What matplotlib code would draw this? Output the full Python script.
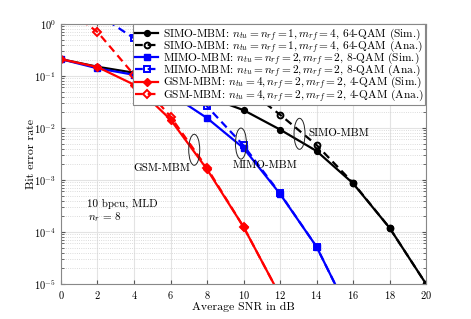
import numpy as np
import matplotlib
matplotlib.use('Agg')
import matplotlib.pyplot as plt
import matplotlib.transforms as mtransforms
from matplotlib.patches import Ellipse

plt.rcParams['font.family'] = ['cmr10', 'DejaVu Serif']
plt.rcParams['mathtext.fontset'] = 'cm'
plt.rcParams['axes.unicode_minus'] = False
plt.rcParams['axes.formatter.use_mathtext'] = True

# SNR grid (dB)
snr = [0, 2, 4, 6, 8, 10, 12, 14, 16, 18, 20]

# SIMO-MBM, 64-QAM
simo_sim = [0.21, 0.15, 0.115, 0.068, 0.040, 0.022, 0.0093, 0.0036, 8.6e-4, 1.2e-4, 1.0e-5]
simo_ana_snr = [8, 10, 12, 14, 16, 18, 20]
simo_ana = [0.25, 0.062, 0.018, 0.0047, 8.8e-4, 1.2e-4, 1.0e-5]

# MIMO-MBM, 8-QAM
mimo_snr = [0, 2, 4, 6, 8, 10, 12, 14, 16]
mimo_sim = [0.21, 0.14, 0.105, 0.045, 0.0155, 0.0041, 5.4e-4, 5.2e-5, 2.0e-6]
mimo_ana_snr = [2, 4, 6, 8, 10, 12, 14, 16]
mimo_ana = [1.55, 0.53, 0.12, 0.026, 0.0046, 5.5e-4, 5.2e-5, 2.0e-6]

# GSM-MBM, 4-QAM
gsm_snr = [0, 2, 4, 6, 8, 10, 12]
gsm_sim = [0.21, 0.148, 0.068, 0.0145, 0.0016, 1.25e-4, 6.0e-6]
gsm_ana = [2.3, 0.70, 0.105, 0.0165, 0.0017, 1.25e-4, 6.0e-6]

labels = [
    r'SIMO-MBM: $n_{tu}=n_{rf}=1, m_{rf}=4$, 64-QAM (Sim.)',
    r'SIMO-MBM: $n_{tu}=n_{rf}=1, m_{rf}=4$, 64-QAM (Ana.)',
    r'MIMO-MBM: $n_{tu}=n_{rf}=2, m_{rf}=2$, 8-QAM (Sim.)',
    r'MIMO-MBM: $n_{tu}=n_{rf}=2, m_{rf}=2$, 8-QAM (Ana.)',
    r'GSM-MBM: $n_{tu}=4, n_{rf}=2, m_{rf}=2$, 4-QAM (Sim.)',
    r'GSM-MBM: $n_{tu}=4, n_{rf}=2, m_{rf}=2$, 4-QAM (Ana.)',
]

fig = plt.figure(figsize=(4.71, 3.19), dpi=100)
ax = fig.add_axes([0.1295, 0.11, 0.775, 0.815])

lw = 1.6
dash = (3.5, 2.2)
ax.plot(snr, simo_sim, '-', color='k', lw=lw, marker='o', ms=4.2, label=labels[0])
ax.plot(simo_ana_snr, simo_ana, '--', color='k', lw=lw, dashes=dash, marker='o', ms=4.2,
        mfc='none', mew=1.4, label=labels[1])
ax.plot(mimo_snr, mimo_sim, '-', color='#0000ff', lw=lw, marker='s', ms=4.0, label=labels[2])
ax.plot(mimo_ana_snr, mimo_ana, '--', color='#0000ff', lw=lw, dashes=dash, marker='s', ms=4.0,
        mfc='none', mew=1.4, label=labels[3])
ax.plot(gsm_snr, gsm_sim, '-', color='#ff0000', lw=lw, marker='D', ms=3.8, label=labels[4])
ax.plot(gsm_snr, gsm_ana, '--', color='#ff0000', lw=lw, dashes=dash, marker='D', ms=3.8,
        mfc='none', mew=1.4, label=labels[5])

ax.set_yscale('log')
ax.set_xlim(0, 20)
ax.set_ylim(1e-5, 1)
ax.set_xticks(range(0, 21, 2))
ax.grid(True, which='major', color='#e3e3e3', lw=0.8, ls='-')
ax.grid(True, which='minor', axis='y', color='#d0d0d0', lw=0.6, ls=':')
ax.set_axisbelow(True)
ax.tick_params(which='both', direction='in', labelsize=7.5, color='#555555',
               top=True, right=True)
ax.tick_params(which='minor', length=2)
ax.tick_params(which='major', length=3)
for s in ax.spines.values():
    s.set_color('#888888')
    s.set_linewidth(0.8)

ax.set_xlabel('Average SNR in dB', fontsize=8.5, labelpad=1)
ax.set_ylabel('Bit error rate', fontsize=8.5, labelpad=-1)

leg = ax.legend(loc='upper right', fontsize=8.2, frameon=True, fancybox=False,
                edgecolor='#888888', framealpha=1, borderpad=0.15, labelspacing=-0.42,
                handlelength=2.1, handletextpad=0.4, borderaxespad=0.05)
leg.get_frame().set_linewidth(0.8)

# ellipses marking curve groups (size in inches, centred at data points)
for x, y in [(7.3, 0.0038), (9.86, 0.005), (13.07, 0.0077)]:
    tr = fig.dpi_scale_trans + mtransforms.ScaledTranslation(x, y, ax.transData)
    ax.add_patch(Ellipse((0, 0), 0.11, 0.31, transform=tr, fill=False,
                         ec='#222222', lw=0.7, zorder=5))

ax.text(5.55, 0.0017, 'GSM-MBM', fontsize=8, ha='center', va='center')
ax.text(11.2, 0.0019, 'MIMO-MBM', fontsize=8, ha='center', va='center')
ax.text(15.2, 0.008, 'SIMO-MBM', fontsize=8, ha='center', va='center')
ax.text(1.42, 3.4e-4, '10 bpcu, MLD', fontsize=8, ha='left', va='center')
ax.text(1.5, 1.95e-4, r'$n_r$ = 8', fontsize=8, ha='left', va='center')

fig.savefig('out.png', dpi=100)
